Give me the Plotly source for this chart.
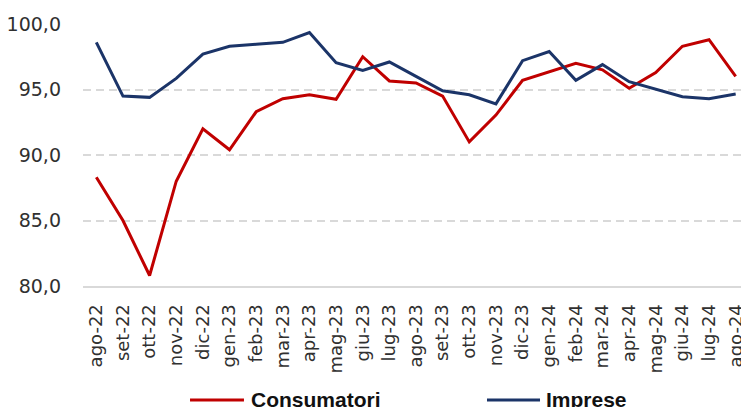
import plotly.graph_objects as go

months = ["ago-22", "set-22", "ott-22", "nov-22", "dic-22", "gen-23", "feb-23", "mar-23",
          "apr-23", "mag-23", "giu-23", "lug-23", "ago-23", "set-23", "ott-23", "nov-23",
          "dic-23", "gen-24", "feb-24", "mar-24", "apr-24", "mag-24", "giu-24", "lug-24", "ago-24"]
consumatori = [88.3, 85.0, 80.8, 88.0, 92.0, 90.4, 93.3, 94.3, 94.6, 94.25, 97.5, 95.65, 95.5,
               94.5, 91.0, 93.05, 95.7, 96.35, 97.0, 96.5, 95.1, 96.3, 98.3, 98.8, 96.0]
imprese = [98.6, 94.5, 94.4, 95.85, 97.7, 98.3, 98.45, 98.6, 99.35, 97.05, 96.45, 97.1, 96.0,
           94.9, 94.6, 93.9, 97.2, 97.9, 95.7, 96.9, 95.6, 95.0, 94.45, 94.3, 94.65]
yticks = [80, 85, 90, 95, 100]
series_names = ["Consumatori", "Imprese"]
series_colors = ["#C00000", "#1B3468"]

fig = go.Figure()
for name, vals, col in zip(series_names, [consumatori, imprese], series_colors):
    fig.add_trace(go.Scatter(x=months, y=vals, name=name, mode="lines",
                             line=dict(color=col, width=3)))

# custom legend (long line samples like the reference)
legend_y = -0.435
legend_pos = [(0.1607, 0.2417, 0.2490), (0.6066, 0.6862, 0.6920)]
for name, col, (lx0, lx1, tx) in zip(series_names, series_colors, legend_pos):
    fig.add_shape(type="line", xref="paper", yref="paper", x0=lx0, x1=lx1,
                  y0=legend_y, y1=legend_y, line=dict(color=col, width=3))
    fig.add_annotation(xref="paper", yref="paper", x=tx, y=legend_y + 0.002,
                       xanchor="left", yanchor="middle", showarrow=False, text=name,
                       font=dict(size=21, color="#111111", family="Liberation Sans",
                                 weight="bold"))

fig.update_layout(
    width=741, height=399,
    margin=dict(l=75, r=0, t=16, b=121, pad=0, autoexpand=False),
    plot_bgcolor="white", paper_bgcolor="white",
    separators=",.",
    font=dict(family="DejaVu Sans", color="#303030"),
    showlegend=False,
    xaxis=dict(type="category", range=[-0.5, len(months) - 0.5], tickangle=-90,
               tickfont=dict(size=18, color="#303030"),
               showgrid=False, showline=True, linecolor="#D9D9D9", linewidth=2,
               ticks="", ticklabelstandoff=9),
    yaxis=dict(range=[80, 100], tickvals=yticks, tickformat=".1f",
               tickfont=dict(size=19, color="#303030"),
               showgrid=True, gridcolor="#D9D9D9", griddash="8px,5px", gridwidth=2,
               zeroline=False, showline=False, ticks="", ticklabelstandoff=21),
)
fig.write_html("out.html")
